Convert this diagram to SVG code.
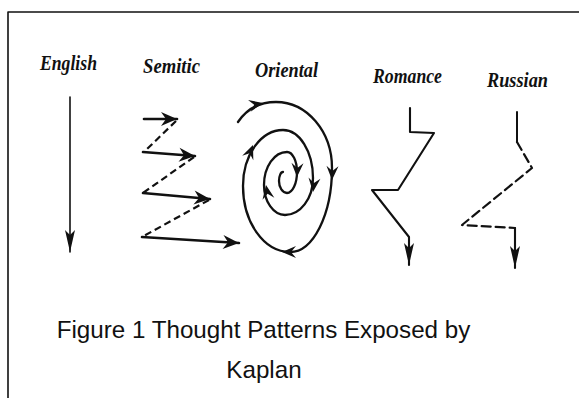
<svg xmlns="http://www.w3.org/2000/svg" width="579" height="398" viewBox="0 0 579 398">
<style>
.lbl{font-family:"Liberation Serif","Times New Roman",serif;font-style:italic;font-weight:bold;font-size:20px;fill:#111;text-anchor:middle}
.cap{font-family:"Liberation Sans",Arial,sans-serif;font-size:24.2px;fill:#111;text-anchor:middle}
.ln{fill:none;stroke:#111;stroke-linecap:round;stroke-linejoin:round}
.dash{stroke-dasharray:7 4;stroke-linecap:butt}
.ah{fill:#111}
</style>
<defs>
<marker id="mLong" markerUnits="userSpaceOnUse" markerWidth="24" markerHeight="12" refX="22" refY="5" orient="auto" overflow="visible">
<path d="M22,5 L0,0 L5,5 L0,10 Z" fill="#111"/>
</marker>
<marker id="mSem" markerUnits="userSpaceOnUse" markerWidth="18" markerHeight="14" refX="16" refY="7" orient="auto" overflow="visible">
<path d="M16,7 L0,0 L5,7 L0,14 Z" fill="#111"/>
</marker>
<path id="sa" d="M0,0 L-14,-6 L-9,0 L-14,6 Z"/>
</defs>

<g id="frame">
<path class="ln" d="M8,398 L8,12 L579,12" stroke-width="1.6" stroke-linecap="butt"/>
</g>

<g id="labels">
<text class="lbl" x="68.5" y="70" textLength="57" lengthAdjust="spacingAndGlyphs">English</text>
<text class="lbl" x="171.5" y="73" textLength="57" lengthAdjust="spacingAndGlyphs">Semitic</text>
<text class="lbl" x="286.5" y="77" textLength="63" lengthAdjust="spacingAndGlyphs">Oriental</text>
<text class="lbl" x="407.5" y="83" textLength="69" lengthAdjust="spacingAndGlyphs">Romance</text>
<text class="lbl" x="517.5" y="87" textLength="61" lengthAdjust="spacingAndGlyphs">Russian</text>
</g>

<g id="connectors">
<g id="english">
<path class="ln" d="M70,97 L70,252" stroke-width="1.6" marker-end="url(#mLong)"/>
</g>
<g id="semitic">
<path class="ln" d="M144,119 L177,119" stroke-width="2.6" marker-end="url(#mSem)"/>
<path class="ln dash" d="M176,121 L145,151" stroke-width="2.2"/>
<path class="ln" d="M143,152 L195,156" stroke-width="2.6" marker-end="url(#mSem)"/>
<path class="ln dash" d="M194,157 L143,193" stroke-width="2.2"/>
<path class="ln" d="M143,193 L210,199" stroke-width="2.6" marker-end="url(#mSem)"/>
<path class="ln dash" d="M209,200 L142,237" stroke-width="2.2"/>
<path class="ln" d="M142,237 L239,243" stroke-width="2.6" marker-end="url(#mSem)"/>
</g>
<g id="oriental">
<path class="ln" stroke-width="2.3" d="M238,122 C246,110 258,102 276,102 A56 66 0 0 1 332 168 A42 84 0 0 1 290 252 A47 66 0 0 1 243 186 A40 56 0 0 1 283 130 A30 48 0 0 1 313 178 A28 37 0 0 1 285 215 A21 30 0 0 1 264 185 A23 33 0 0 1 287 152 A10 20 0 0 1 297 172 A10 21 0 0 1 287 193 A8 12 0 0 1 279 181 A4 9 0 0 1 283 172"/>
<use href="#sa" class="ah" transform="translate(263,103) rotate(-12)"/>
<use href="#sa" class="ah" transform="translate(332,180) rotate(92)"/>
<use href="#sa" class="ah" transform="translate(282,252) rotate(180)"/>
<use href="#sa" class="ah" transform="translate(253,145) rotate(-68)"/>
<use href="#sa" class="ah" transform="translate(313,192) rotate(96)"/>
<use href="#sa" class="ah" transform="translate(266,185) rotate(-100)"/>
<use href="#sa" class="ah" transform="translate(297,177) rotate(92)"/>
</g>
<g id="romance">
<path class="ln" stroke-width="2.1" d="M410,108 L410,132 L434,133 L398,190 L372,190 L409,237 L409,265" marker-end="url(#mLong)"/>
</g>
<g id="russian">
<path class="ln" stroke-width="2" d="M517,112 L517,142"/>
<path class="ln" stroke-width="2.2" stroke-dasharray="9 5" stroke-linecap="butt" d="M517,142 L532,168 L462,225 L515,228"/>
<path class="ln" stroke-width="2.1" d="M515,228 L515,268" marker-end="url(#mLong)"/>
</g>
</g>

<g id="caption">
<text class="cap" x="263.5" y="338">Figure 1 Thought Patterns Exposed by</text>
<text class="cap" x="264" y="378">Kaplan</text>
</g>
</svg>
